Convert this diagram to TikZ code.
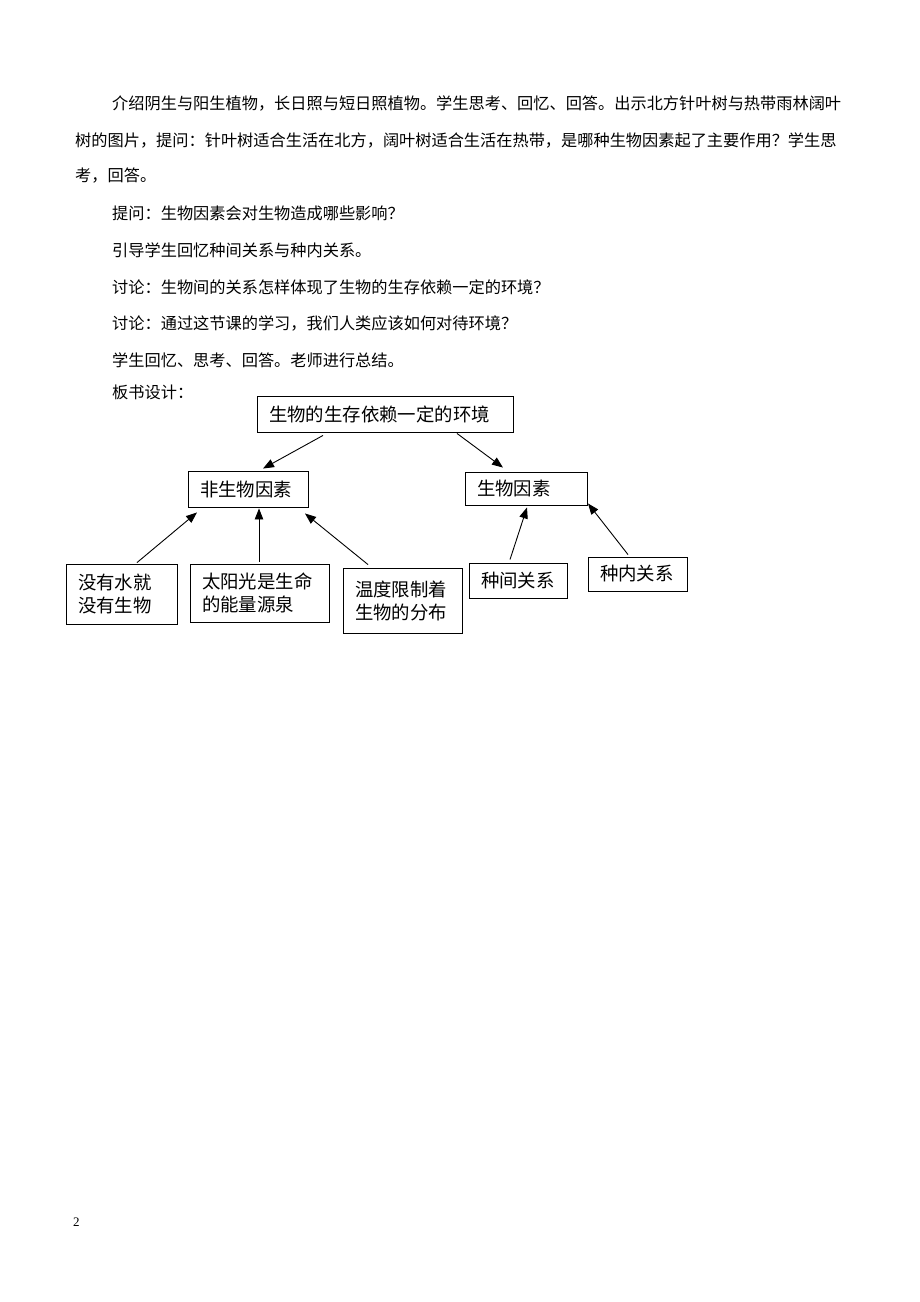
\documentclass[tikz,border=0pt]{standalone}
\usepackage{fontspec}
\setmainfont{Liberation Serif}
\newfontfamily\cjk{Noto Sans CJK SC}
\usetikzlibrary{arrows.meta}
\tikzset{
  body/.style={anchor=west, inner sep=0pt, font=\cjk\fontsize{16.2pt}{20pt}\selectfont},
  box/.style={draw, line width=0.9pt, inner xsep=12pt, inner ysep=0pt, align=left,
    font=\cjk\fontsize{18.4pt}{23pt}\selectfont},
  arr/.style={line width=0.9pt, -{Triangle[length=11pt,width=8.5pt]}}
}
\begin{document}
\begin{tikzpicture}[x=1pt,y=-1pt]
\useasboundingbox (0,0) rectangle (920,1302);
\fill[white] (0,0) rectangle (920,1302);
% body text
\node[body] (l1) at (112,103) {介绍阴生与阳生植物，长日照与短日照植物。学生思考、回忆、回答。出示北方针叶树与热带雨林阔叶};
\node[body] (l2) at (75,140) {树的图片，提问：针叶树适合生活在北方，阔叶树适合生活在热带，是哪种生物因素起了主要作用？学生思};
\node[body] (l3) at (75,176) {考，回答。};
\node[body] (l4) at (112,213) {提问：生物因素会对生物造成哪些影响？};
\node[body] (l5) at (112,250) {引导学生回忆种间关系与种内关系。};
\node[body] (l6) at (112,287) {讨论：生物间的关系怎样体现了生物的生存依赖一定的环境？};
\node[body] (l7) at (112,323) {讨论：通过这节课的学习，我们人类应该如何对待环境？};
\node[body] (l8) at (112,360) {学生回忆、思考、回答。老师进行总结。};
\node[body] (l9) at (112,392) {板书设计：};
% boxes
\node[box, minimum width=256pt, text width=232pt, minimum height=36pt] (top) at (385,414) {生物的生存依赖一定的环境};
\node[box, minimum width=120pt, text width=96pt, minimum height=36pt] (fei) at (248,489) {非生物因素};
\node[box, minimum width=122pt, text width=98pt, minimum height=33pt] (sheng) at (526,488.5) {生物因素};
\node[box, minimum width=111pt, text width=87pt, minimum height=60pt] (water) at (121.5,594) {没有水就\\没有生物};
\node[box, minimum width=139pt, text width=115pt, minimum height=58pt] (sun) at (259.5,593) {太阳光是生命\\的能量源泉};
\node[box, minimum width=119pt, text width=95pt, minimum height=65pt] (temp) at (402.5,600.5) {温度限制着\\生物的分布};
\node[box, minimum width=98pt, text width=74pt, minimum height=35pt] (jian) at (518,580.5) {种间关系};
\node[box, minimum width=99pt, text width=75pt, minimum height=34pt] (nei) at (637.5,574) {种内关系};
% arrows
\draw[arr] ([xshift=-62pt,yshift=-3pt]top.south) -- ([xshift=15pt,yshift=2pt]fei.north);
\draw[arr] ([xshift=72pt,yshift=-1pt]top.south) -- ([xshift=-23pt,yshift=4pt]sheng.north);
\draw[arr] ([xshift=15.5pt,yshift=1pt]water.north) -- ([xshift=-51pt,yshift=-5pt]fei.south);
\draw[arr] ([xshift=-0.5pt,yshift=2pt]sun.north) -- ([xshift=11pt,yshift=-1pt]fei.south);
\draw[arr] ([xshift=-34.5pt,yshift=3pt]temp.north) -- ([xshift=57pt,yshift=-6pt]fei.south);
\draw[arr] ([xshift=-8pt,yshift=3pt]jian.north) -- ([xshift=1pt,yshift=-2pt]sheng.south);
\draw[arr] ([xshift=-9.5pt,yshift=2pt]nei.north) -- ([xshift=62pt,yshift=2pt]sheng.south);
% page number
\node[anchor=west, inner sep=0pt, font=\fontsize{13pt}{15pt}\selectfont] (pg) at (73,1222) {2};
\end{tikzpicture}
\end{document}
